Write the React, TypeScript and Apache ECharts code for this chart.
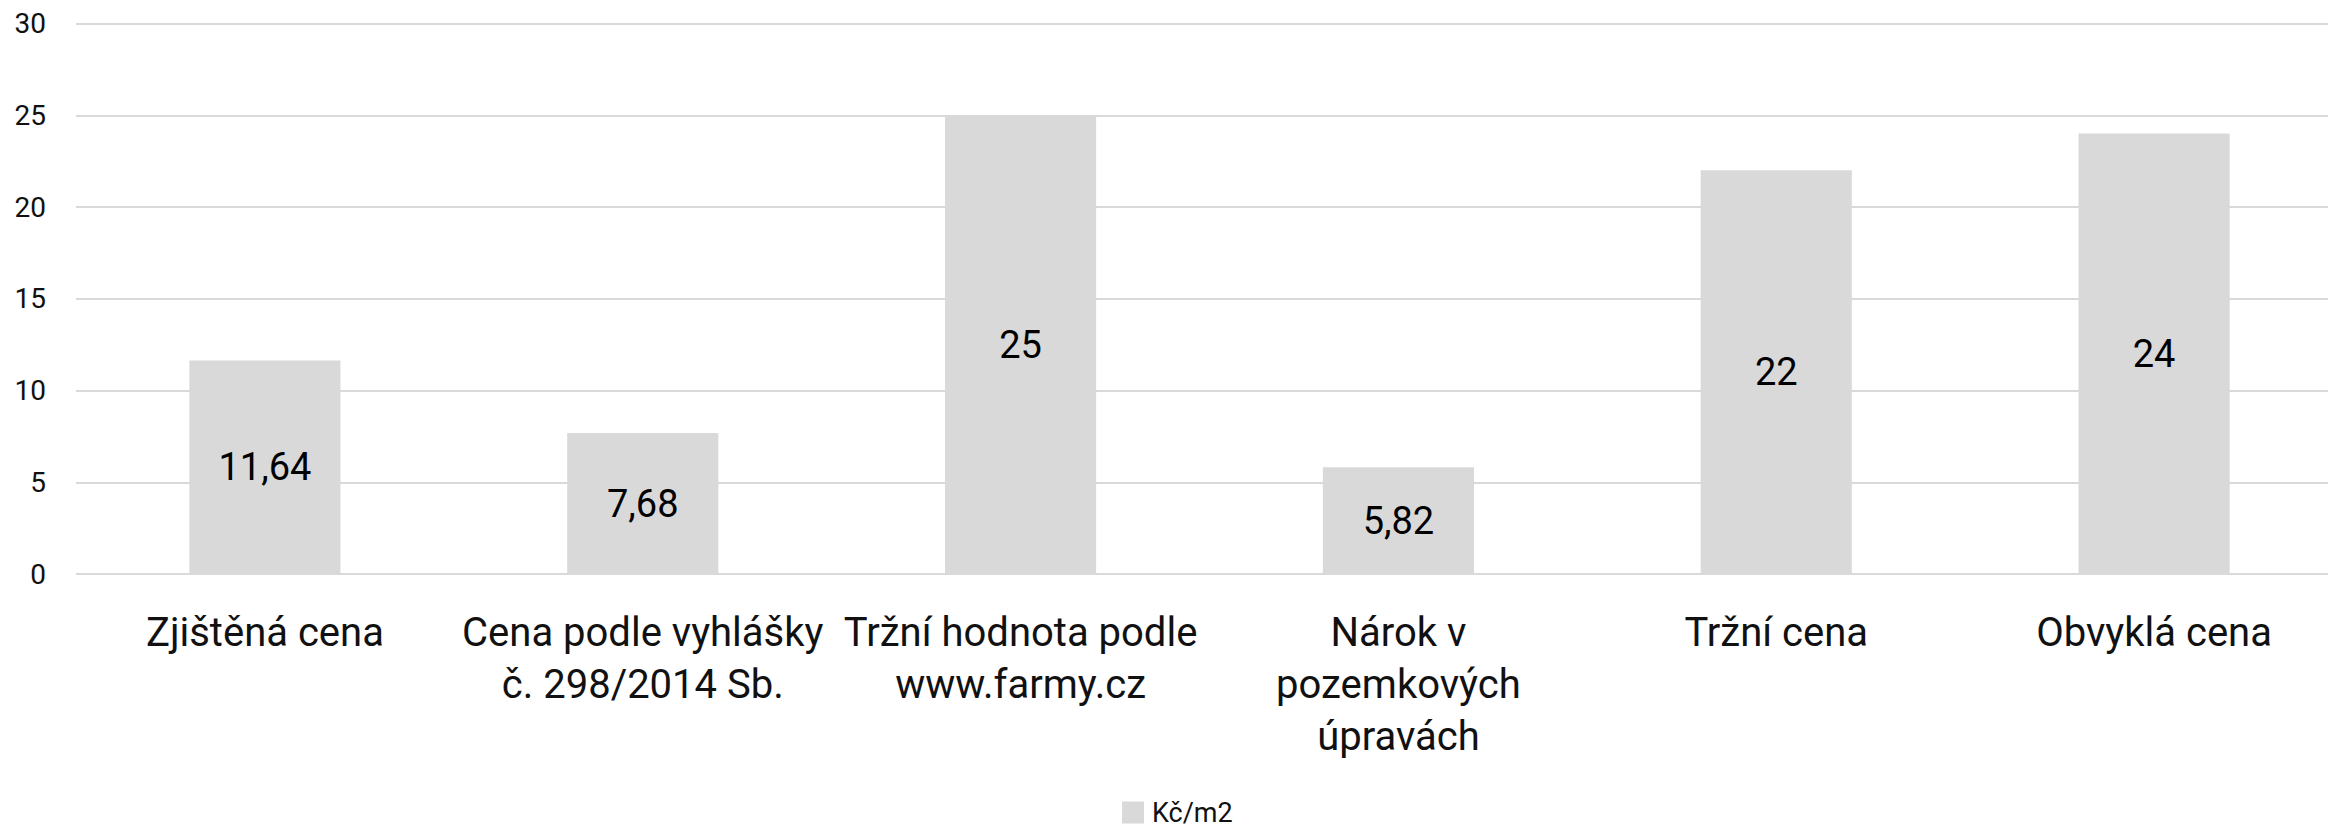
import React, { useEffect, useRef } from "react";
import * as echarts from "echarts";

const categories = [
  "Zjištěná cena",
  "Cena podle vyhlášky\nč. 298/2014 Sb.",
  "Tržní hodnota podle\nwww.farmy.cz",
  "Nárok v\npozemkových\núpravách",
  "Tržní cena",
  "Obvyklá cena",
];
const values = [11.64, 7.68, 25, 5.82, 22, 24];
const seriesName = "Kč/m2";

const FONT = "Roboto";

export default function App() {
  const ref = useRef<HTMLDivElement>(null);
  useEffect(() => {
    if (!ref.current) return;
    const chart = echarts.init(ref.current, undefined, { renderer: "svg" });
    chart.setOption({
      animation: false,
      backgroundColor: "#ffffff",
      textStyle: { fontFamily: FONT },
      grid: {
        left: 76,
        width: 2267,
        top: 23.5,
        bottom: 256,
        containLabel: false,
        outerBoundsMode: "none",
      },
      legend: {
        show: true,
        data: [seriesName],
        left: 1122,
        top: 799,
        padding: 0,
        itemWidth: 22,
        itemHeight: 22,
        icon: "rect",
        textStyle: { fontFamily: FONT, fontSize: 27, lineHeight: 22, color: "#111111", padding: [0, 0, 0, 3] },
      },
      xAxis: {
        type: "category",
        data: categories,
        axisLine: { show: false },
        axisTick: { show: false },
        axisLabel: {
          interval: 0,
          margin: 32,
          fontFamily: FONT,
          fontSize: 40,
          lineHeight: 52,
          color: "#111111",
          align: "center",
        },
      },
      yAxis: {
        type: "value",
        min: 0,
        max: 30,
        interval: 5,
        axisLine: { show: false },
        axisTick: { show: false },
        splitLine: { lineStyle: { color: "#d9d9d9", width: 2 } },
        axisLabel: { margin: 30, fontFamily: FONT, fontSize: 28, color: "#111111" },
      },
      series: [
        {
          name: seriesName,
          type: "bar",
          data: values,
          barCategoryGap: "60%",
          itemStyle: { color: "#d9d9d9" },
          label: {
            show: true,
            position: "inside",
            fontFamily: FONT,
            fontSize: 38,
            color: "#000000",
            formatter: (p: any) => String(p.value).replace(".", ","),
          },
        },
      ],
    });
    return () => chart.dispose();
  }, []);
  return (
    <div
      ref={ref}
      style={{ position: "absolute", left: 0, top: 0, width: 2328, height: 830, overflow: "hidden" }}
    />
  );
}
